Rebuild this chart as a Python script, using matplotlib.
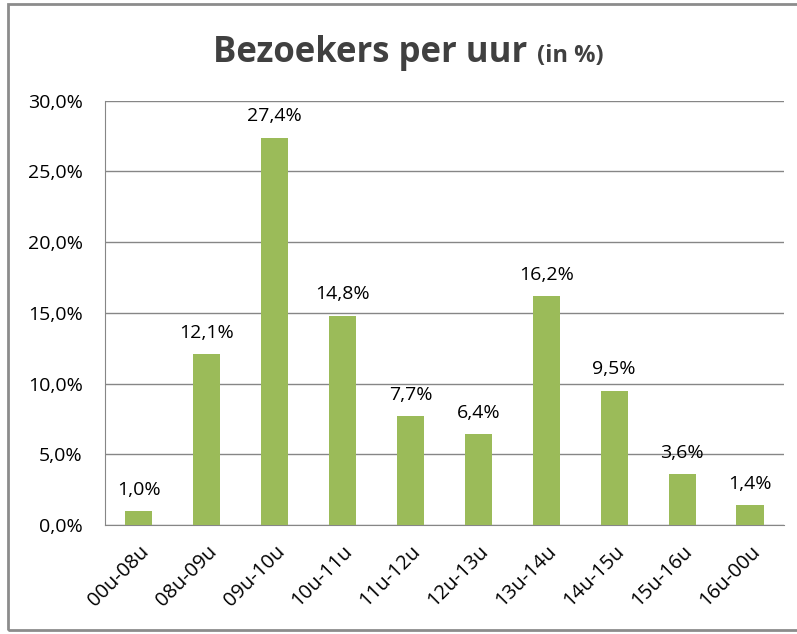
import matplotlib.pyplot as plt
from matplotlib.patches import Rectangle
from matplotlib.ticker import FuncFormatter

# data
uren = ['00u-08u', '08u-09u', '09u-10u', '10u-11u', '11u-12u',
        '12u-13u', '13u-14u', '14u-15u', '15u-16u', '16u-00u']
procent = [1.0, 12.1, 27.4, 14.8, 7.7, 6.4, 16.2, 9.5, 3.6, 1.4]

plt.rcParams['font.family'] = ['Open Sans', 'DejaVu Sans']

fig = plt.figure(figsize=(7.97, 6.34), dpi=100)
ax = fig.add_axes([0.1317, 0.172, 0.852, 0.669])

# outer chart frame
fig.patches.append(Rectangle((8 / 797, 4 / 634), 1.0, 626 / 634, transform=fig.transFigure,
                             fill=False, edgecolor='#8c8c8c', linewidth=2, clip_on=False))

x = range(len(uren))
ax.bar(x, procent, width=0.4, color='#9bbb59', zorder=3)

for i, v in zip(x, procent):
    ax.text(i, v + 1.15, ('%.1f%%' % v).replace('.', ','), ha='center', va='baseline',
            fontsize=14, color='#000000')

ax.set_xlim(-0.5, len(uren) - 0.5)
ax.set_ylim(0, 30)
ax.set_yticks([0, 5, 10, 15, 20, 25, 30])
ax.yaxis.set_major_formatter(FuncFormatter(lambda v, p: ('%.1f%%' % v).replace('.', ',')))
ax.yaxis.grid(True, color='#868686', linewidth=1, zorder=0)
ax.set_xticks(list(x))
ax.set_xticklabels(uren, rotation=45, ha='right', rotation_mode='anchor', fontsize=14.5)
ax.tick_params(axis='y', length=0, labelsize=14, pad=16)
ax.tick_params(axis='x', length=0, pad=12)

for s in ['top', 'right']:
    ax.spines[s].set_visible(False)
ax.spines['left'].set_color('#868686')
ax.spines['bottom'].set_color('#868686')

fig.text(527 / 797, 1 - 62 / 634, 'Bezoekers per uur', ha='right', va='baseline',
         fontsize=25, fontweight='bold', color='#404040')
fig.text(537 / 797, 1 - 62 / 634, '(in %)', ha='left', va='baseline',
         fontsize=17, fontweight='bold', color='#404040')

fig.savefig('out.png', dpi=100)
